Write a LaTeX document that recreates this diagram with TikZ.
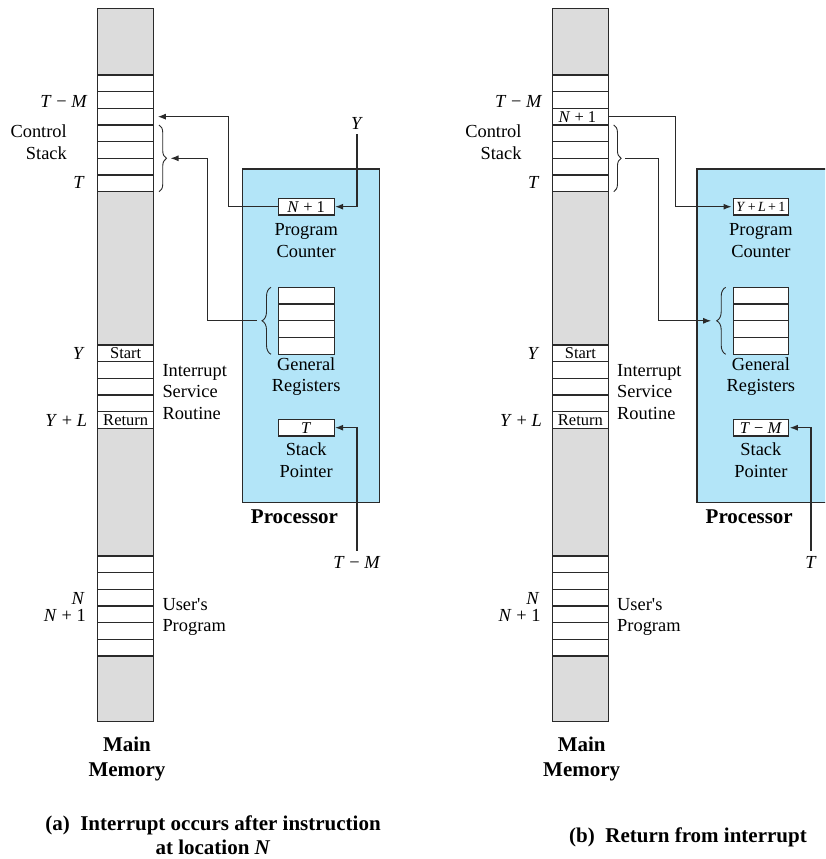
\documentclass[tikz,border=0pt]{standalone}
\usepackage{fontspec}
\setmainfont{Liberation Serif}
\usetikzlibrary{decorations.pathreplacing,arrows.meta}
\definecolor{ln}{HTML}{2A2A2A}
\definecolor{memgray}{HTML}{DCDCDC}
\definecolor{procblue}{HTML}{B3E5F8}
\tikzset{
 memcol/.style={draw=ln, fill=memgray, line width=1.2pt, minimum width=56pt, minimum height=713pt, inner sep=0pt},
 cell/.style={draw=ln, fill=white, line width=1.1pt, minimum width=56pt, minimum height=16.67pt, inner sep=0pt},
 celltxt/.style={inner sep=0pt, font=\fontsize{16.5}{18}\selectfont},
 proc/.style={draw=ln, fill=procblue, line width=1.2pt, minimum width=137pt, minimum height=333.7pt, inner sep=0pt},
 reg/.style={cell, minimum width=55.7pt, font=\fontsize{16.5}{18}\selectfont},
 lbl/.style={font=\fontsize{18.4}{21.5}\selectfont, inner sep=0pt},
 blbl/.style={font=\fontsize{21}{24.5}\selectfont\bfseries, inner sep=0pt, align=center},
 conn/.style={draw=ln, line width=1.1pt, -{Latex[length=8pt,width=6pt]}},
 brc/.style={draw=ln, line width=0.9pt, decorate, decoration={brace, amplitude=#1}},
}
% #1 prefix, #2 PC text, #3 SP text, #4 control stack row-3 text
\newcommand\mempanel[4]{%
 \node[memcol] (#1mem) at (125.7,365.2) {};
 \foreach \i in {0,...,6}{\node[cell] (#1cs\i) at (125.7,{83.33+16.667*\i}) {};}
 \foreach \i in {0,...,4}{\node[cell] (#1isr\i) at (125.7,{353.33+16.667*\i}) {};}
 \foreach \i in {0,...,5}{\node[cell] (#1up\i) at (125.7,{564.33+16.667*\i}) {};}
 \node[celltxt] (#1cstxt) at ([xshift=-3pt]#1cs2) {#4};
 \node[celltxt] (#1start) at (#1isr0) {Start};
 \node[celltxt] (#1ret) at (#1isr4) {Return};
 \node[lbl, anchor=east, align=right] (#1ctl) at (67,142) {Control\\Stack};
 \node[lbl, anchor=east] (#1tm) at (87.7,101) {\textit{T} − \textit{M}};
 \node[lbl, anchor=east] (#1t) at (85,182) {\textit{T}};
 \node[lbl, anchor=east] (#1y) at (85,353) {\textit{Y}};
 \node[lbl, anchor=east] (#1yl) at (87.3,420) {\textit{Y} + \textit{L}};
 \node[lbl, anchor=east] (#1n) at (85,598) {\textit{N}};
 \node[lbl, anchor=east] (#1nn) at (86,615) {\textit{N} + 1};
 \node[lbl, anchor=west, align=left] (#1isrl) at (162.3,391.7) {Interrupt\\Service\\Routine};
 \node[lbl, anchor=west, align=left] (#1upl) at (162.3,617) {User\textquotesingle s\\Program};
 \node[blbl] (#1mm) at (127,759) {Main\\Memory};
 \draw[brc=7.5pt] (159,125) -- (159,191.7);
 \coordinate (#1mbt) at (170.5,158.3);
 \node[proc] (#1proc) at (310.8,335.85) {};
 \node[reg] (#1pc) at (306.2,206.7) {#2};
 \foreach \i in {0,...,3}{\node[reg] (#1r\i) at (306.2,{295.7+16.75*\i}) {};}
 \node[reg] (#1sp) at (306.2,427.7) {#3};
 \draw[brc=9pt] (271,354.3) -- (271,287.3);
 \coordinate (#1rbt) at (256.5,320.8);
 \node[lbl, align=center] (#1pcl) at (306.2,240.5) {Program\\Counter};
 \node[lbl, align=center] (#1grl) at (306.2,376.5) {General\\Registers};
 \node[lbl, align=center] (#1spl) at (306.2,460) {Stack\\Pointer};
 \node[blbl] (#1pl) at (294.5,516.7) {Processor};
}
\begin{document}
\begin{tikzpicture}[x=1pt,y=-1pt]
\useasboundingbox (0,0) rectangle (825,859);
\clip (0,0) rectangle (825,859);
% panel (a)
\mempanel{a}{\textit{N} + 1}{\textit{T}}{}
\node[lbl] (aY) at (357,123) {\textit{Y}};
\node[lbl] (aTM) at (357,562) {\textit{T} − \textit{M}};
\draw[conn, shorten >=3.5pt] (apc.west) -- ++(-49,0) |- (acs2.east);
\draw[conn] (arbt) -- ++(-49.2,0) |- (ambt);
\draw[conn, shorten <=5pt, shorten >=0.5pt] (aY.south) |- (apc.east);
\draw[conn, shorten <=5pt, shorten >=0.5pt] (aTM.north) |- (asp.east);
\node[blbl] (capa) at (213,835) {(a)\ \ Interrupt occurs after instruction\\at location \textit{N}};
% panel (b)
\begin{scope}[xshift=454.7pt]
\mempanel{b}{{\fontsize{14}{16}\selectfont\textit{Y}\,+\,\textit{L}\,+\,1}}{\textit{T} − \textit{M}}{\textit{N} + 1}
\end{scope}
\node[lbl] (bT) at (811,562) {\textit{T}};
\draw[conn, shorten >=1pt] (bcs2.east) -- ++(66.7,0) |- (bpc.west);
\draw[conn] (bmbt) -- ++(33.1,0) |- (brbt);
\draw[conn, shorten <=5pt, shorten >=0.5pt] (bT.north) |- (bsp.east);
\node[blbl] (capb) at (688,837.7) {(b)\ \ Return from interrupt};
\end{tikzpicture}
\end{document}
